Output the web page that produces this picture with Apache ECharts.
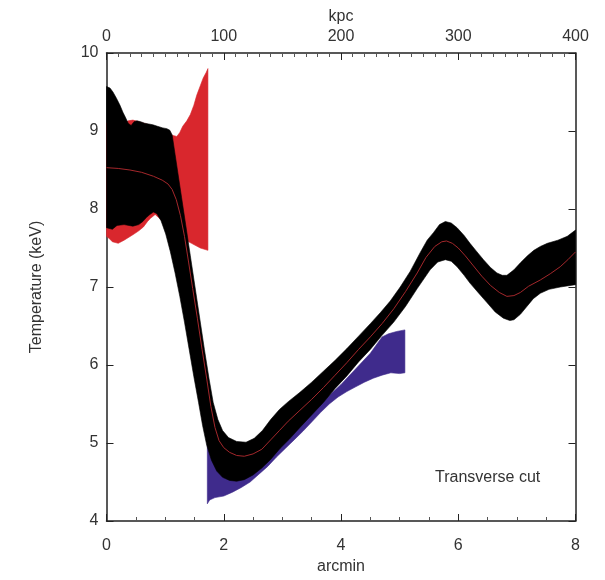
<!DOCTYPE html>
<html>
<head>
<meta charset="utf-8">
<script src="https://cdn.jsdelivr.net/npm/echarts@6/dist/echarts.min.js"></script>
<style>html,body{margin:0;padding:0;background:#fff}#c{width:605px;height:580px}</style>
</head>
<body>
<div id="c"></div>
<script>
// arcmin ticks / kpc ticks
const arcminTicks = [0, 2, 4, 6, 8];
const kpcTicks = [0, 100, 200, 300, 400];
const tempTicks = [4, 5, 6, 7, 8, 9, 10];

// Black band (main profile uncertainty): upper and lower envelopes [arcmin, keV]
const blackUpper = [[0,9.57],[0.06,9.55],[0.11,9.50],[0.17,9.42],[0.23,9.33],[0.28,9.24],[0.32,9.18],[0.37,9.10],[0.42,9.07],[0.47,9.12],[0.52,9.13],[0.58,9.12],[0.65,9.10],[0.72,9.09],[0.79,9.08],[0.87,9.06],[0.96,9.04],[1.03,9.03],[1.08,9.01],[1.12,8.95],[1.17,8.70],[1.22,8.45],[1.28,8.15],[1.35,7.80],[1.43,7.40],[1.51,7.00],[1.59,6.60],[1.67,6.20],[1.75,5.82],[1.82,5.52],[1.9,5.30],[1.98,5.16],[2.08,5.07],[2.22,5.02],[2.38,5.01],[2.52,5.06],[2.66,5.16],[2.8,5.30],[2.95,5.43],[3.1,5.53],[3.3,5.65],[3.5,5.78],[3.7,5.92],[3.9,6.06],[4.1,6.21],[4.3,6.37],[4.5,6.53],[4.67,6.67],[4.84,6.82],[5.01,7.00],[5.18,7.20],[5.35,7.44],[5.47,7.60],[5.58,7.70],[5.68,7.80],[5.78,7.84],[5.88,7.82],[5.98,7.76],[6.1,7.66],[6.2,7.56],[6.32,7.45],[6.43,7.35],[6.55,7.25],[6.66,7.18],[6.75,7.15],[6.83,7.15],[6.95,7.22],[7.06,7.31],[7.18,7.40],[7.29,7.47],[7.4,7.52],[7.52,7.56],[7.7,7.60],[7.86,7.65],[8.0,7.73]];
const blackLower = [[0,7.76],[0.1,7.74],[0.18,7.79],[0.3,7.80],[0.45,7.78],[0.55,7.80],[0.62,7.84],[0.68,7.89],[0.74,7.93],[0.8,7.96],[0.86,7.94],[0.93,7.85],[1.01,7.68],[1.09,7.45],[1.17,7.18],[1.25,6.88],[1.33,6.55],[1.41,6.20],[1.49,5.85],[1.57,5.52],[1.64,5.22],[1.71,4.97],[1.79,4.78],[1.88,4.64],[1.98,4.56],[2.1,4.52],[2.22,4.51],[2.35,4.53],[2.5,4.59],[2.65,4.68],[2.8,4.79],[2.96,4.93],[3.12,5.05],[3.3,5.20],[3.5,5.36],[3.7,5.52],[3.9,5.70],[4.1,5.86],[4.3,6.04],[4.5,6.20],[4.7,6.38],[4.9,6.55],[5.1,6.75],[5.3,6.98],[5.52,7.22],[5.65,7.32],[5.78,7.35],[5.88,7.33],[5.98,7.26],[6.1,7.15],[6.2,7.05],[6.35,6.92],[6.49,6.80],[6.63,6.68],[6.77,6.60],[6.88,6.57],[6.95,6.58],[7.06,6.65],[7.17,6.75],[7.28,6.85],[7.4,6.92],[7.55,6.97],[7.74,7.00],[8.0,7.03]];

// Best-fit profile (thin dark red line)
const centerLine = [[0,8.53],[0.2,8.52],[0.4,8.50],[0.6,8.47],[0.8,8.42],[0.95,8.37],[1.05,8.32],[1.12,8.25],[1.19,8.12],[1.26,7.92],[1.33,7.65],[1.4,7.32],[1.47,6.98],[1.55,6.60],[1.63,6.20],[1.71,5.82],[1.78,5.47],[1.85,5.20],[1.92,5.03],[2.0,4.94],[2.1,4.88],[2.22,4.84],[2.35,4.83],[2.5,4.86],[2.65,4.92],[2.8,5.04],[2.95,5.16],[3.1,5.28],[3.3,5.42],[3.5,5.56],[3.7,5.71],[3.9,5.87],[4.1,6.03],[4.3,6.20],[4.5,6.36],[4.7,6.53],[4.9,6.72],[5.1,6.94],[5.3,7.18],[5.45,7.38],[5.6,7.52],[5.72,7.58],[5.8,7.59],[5.9,7.56],[6.0,7.50],[6.12,7.40],[6.26,7.27],[6.4,7.14],[6.55,7.02],[6.7,6.93],[6.83,6.88],[6.95,6.89],[7.06,6.93],[7.2,7.01],[7.4,7.09],[7.57,7.17],[7.74,7.26],[7.87,7.35],[8.0,7.45]];

// Red band (inner region)
const redUpper = [[0,9.10],[0.3,9.10],[0.37,9.13],[0.45,9.14],[0.55,9.12],[0.8,9.06],[1.0,9.00],[1.1,8.95],[1.2,8.93],[1.25,8.98],[1.3,9.06],[1.37,9.13],[1.43,9.21],[1.49,9.33],[1.54,9.46],[1.6,9.58],[1.65,9.68],[1.7,9.75],[1.73,9.80]];
const redLower = [[0,7.65],[0.05,7.62],[0.1,7.58],[0.2,7.56],[0.3,7.60],[0.45,7.67],[0.55,7.72],[0.63,7.77],[0.7,7.84],[0.75,7.88],[0.83,7.93],[0.95,7.85],[1.1,7.70],[1.3,7.62],[1.45,7.56],[1.6,7.50],[1.73,7.47]];

// Blue band (outer region)
const blueUpper = [[1.72,5.00],[1.8,4.85],[1.9,4.75],[2.1,4.70],[2.3,4.70],[2.6,4.80],[3.0,5.00],[3.5,5.40],[4.0,5.75],[4.5,6.15],[4.7,6.36],[4.81,6.40],[4.95,6.43],[5.09,6.45]];
const blueLower = [[1.72,4.22],[1.76,4.27],[1.85,4.30],[2.0,4.32],[2.15,4.37],[2.3,4.43],[2.45,4.50],[2.6,4.60],[2.75,4.70],[2.9,4.82],[3.05,4.93],[3.2,5.04],[3.35,5.15],[3.5,5.27],[3.65,5.39],[3.8,5.50],[3.95,5.59],[4.1,5.66],[4.25,5.72],[4.4,5.78],[4.55,5.83],[4.7,5.87],[4.85,5.90],[5.0,5.89],[5.09,5.90]];

const FONT = "'Liberation Sans', Arial, Helvetica, sans-serif";
const TXT = '#333';
const AX = '#222';

function band(upper, lower, color, z) {
  return {
    type: 'custom', xAxisIndex: 0, yAxisIndex: 0, silent: true, z: z,
    data: [[upper[0][0], upper[0][1]]],
    renderItem: function (params, api) {
      const pts = upper.map(p => api.coord(p)).concat(lower.slice().reverse().map(p => api.coord(p)));
      return { type: 'polygon', shape: { points: pts }, style: { fill: color, stroke: color, lineWidth: 0.6 } };
    }
  };
}

function xAx(min, max, interval, pos, name, split, nameGap, margin) {
  return {
    type: 'value', min: min, max: max, interval: interval, position: pos,
    name: name, nameLocation: 'middle', nameGap: nameGap,
    nameTextStyle: { fontFamily: FONT, fontSize: 16, color: TXT },
    axisLine: { show: true, onZero: false, lineStyle: { color: AX, width: 1.5 } },
    axisTick: { show: true, inside: true, length: 7, lineStyle: { color: AX } },
    minorTick: { show: true, splitNumber: split, length: 4, lineStyle: { color: '#555' } },
    splitLine: { show: false },
    axisLabel: { fontFamily: FONT, fontSize: 16, color: TXT, margin: margin }
  };
}

const chart = echarts.init(document.getElementById('c'), null, { renderer: 'canvas' });
chart.setOption({
  animation: false,
  backgroundColor: '#fff',
  grid: { left: 106.5, right: 29.5, top: 53, bottom: 59 },
  xAxis: [
    xAx(arcminTicks[0], arcminTicks[arcminTicks.length - 1], arcminTicks[1] - arcminTicks[0], 'bottom', 'arcmin', 4, 36, 17),
    xAx(kpcTicks[0], kpcTicks[kpcTicks.length - 1], kpcTicks[1] - kpcTicks[0], 'top', 'kpc', 10, 28, 8)
  ],
  yAxis: [
    {
      type: 'value', min: tempTicks[0], max: tempTicks[tempTicks.length - 1], interval: 1, position: 'left',
      name: 'Temperature (keV)', nameLocation: 'middle', nameGap: 62,
      nameTextStyle: { fontFamily: FONT, fontSize: 16, color: TXT },
      axisLine: { show: true, onZero: false, lineStyle: { color: AX, width: 1.5 } },
      axisTick: { show: true, inside: true, length: 7, lineStyle: { color: AX } },
      splitLine: { show: false },
      axisLabel: { fontFamily: FONT, fontSize: 16, color: TXT, margin: 8 }
    },
    {
      type: 'value', min: tempTicks[0], max: tempTicks[tempTicks.length - 1], interval: 1, position: 'right',
      axisLine: { show: true, onZero: false, lineStyle: { color: AX, width: 1.5 } },
      axisTick: { show: true, inside: true, length: 7, lineStyle: { color: AX } },
      splitLine: { show: false },
      axisLabel: { show: false }
    }
  ],
  graphic: [{
    type: 'text', left: 435, top: 470,
    style: { text: 'Transverse cut', font: '16px ' + FONT, fill: TXT }
  }],
  series: [
    band(redUpper, redLower, '#d9272d', 1),
    band(blueUpper, blueLower, '#3f2b8c', 2),
    band(blackUpper, blackLower, '#000000', 3),
    {
      type: 'line', xAxisIndex: 0, yAxisIndex: 0, data: centerLine, showSymbol: false, silent: true, z: 4,
      lineStyle: { color: '#a3272b', width: 1 }
    }
  ]
});
</script>
</body>
</html>
